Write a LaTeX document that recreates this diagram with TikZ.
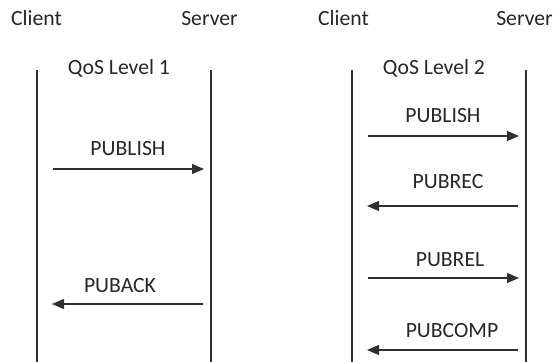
\documentclass[tikz,border=0pt]{standalone}
\usepackage{fontspec}
\setmainfont{Carlito}
\usetikzlibrary{arrows.meta}
\definecolor{ink}{HTML}{262626}
\definecolor{linec}{HTML}{303030}
\tikzset{
  lbl/.style={anchor=base, inner sep=0pt, text=ink, font=\fontsize{21.7}{26}\selectfont},
  life/.style={draw=linec, line width=1.3pt},
  msg/.style={draw=linec, line width=1.3pt, -{Triangle[length=12pt,width=10pt]}}
}
\begin{document}
\begin{tikzpicture}[x=1pt,y=-1pt]
\useasboundingbox (0,0) rectangle (558,362);
% headers
\node[lbl] (cl1) at (36.5,25) {Client};
\node[lbl] (sv1) at (209.5,25) {Server};
\node[lbl] (cl2) at (343.5,25) {Client};
\node[lbl] (sv2) at (524.5,25) {Server};
\node[lbl] (q1) at (119,74) {QoS Level 1};
\node[lbl] (q2) at (434,74) {QoS Level 2};
% lifelines
\coordinate (c1t) at (37,70);  \coordinate (c1b) at (37,362);
\coordinate (s1t) at (211,70); \coordinate (s1b) at (211,362);
\coordinate (c2t) at (352,70); \coordinate (c2b) at (352,362);
\coordinate (s2t) at (526,70); \coordinate (s2b) at (526,362);
\draw[life] (c1t) -- (c1b);
\draw[life] (s1t) -- (s1b);
\draw[life] (c2t) -- (c2b);
\draw[life] (s2t) -- (s2b);
% QoS 1 messages
\coordinate (p1a) at (53,169);  \coordinate (p1b) at (204,169);
\coordinate (a1a) at (203,304); \coordinate (a1b) at (52,304);
\draw[msg] (p1a) -- (p1b);
\draw[msg] (a1a) -- (a1b);
\node[lbl] (lp1) at (128,155) {PUBLISH};
\node[lbl] (la1) at (120,292) {PUBACK};
% QoS 2 messages
\coordinate (p2a) at (368,136); \coordinate (p2b) at (519,136);
\coordinate (r2a) at (518,206); \coordinate (r2b) at (367,206);
\coordinate (l2a) at (368,278); \coordinate (l2b) at (519,278);
\coordinate (m2a) at (518,350); \coordinate (m2b) at (367,350);
\draw[msg] (p2a) -- (p2b);
\draw[msg] (r2a) -- (r2b);
\draw[msg] (l2a) -- (l2b);
\draw[msg] (m2a) -- (m2b);
\node[lbl] (lp2) at (443,122) {PUBLISH};
\node[lbl] (lr2) at (448,188) {PUBREC};
\node[lbl] (ll2) at (450,266) {PUBREL};
\node[lbl] (lm2) at (452,337) {PUBCOMP};
\end{tikzpicture}
\end{document}
